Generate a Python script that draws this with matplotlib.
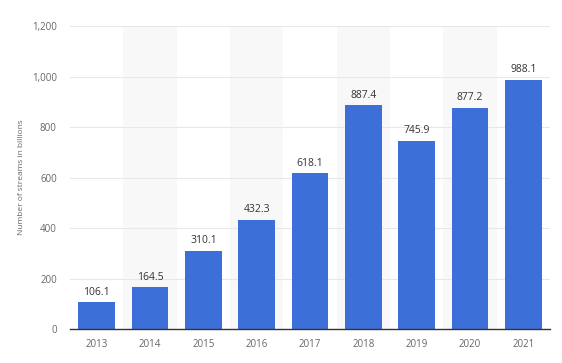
import matplotlib
matplotlib.use("Agg")
import matplotlib.pyplot as plt

years = ["2013", "2014", "2015", "2016", "2017", "2018", "2019", "2020", "2021"]
streams = [106.1, 164.5, 310.1, 432.3, 618.1, 887.4, 745.9, 877.2, 988.1]
yticks = [0, 200, 400, 600, 800, 1000, 1200]

plt.rcParams['font.family'] = ['Open Sans', 'DejaVu Sans']
fig = plt.figure(figsize=(5.62, 3.63), dpi=100)
ax = fig.add_axes([0.1246, 0.0937, 0.854, 0.834])

x = list(range(len(years)))
for i in x:
    if i % 2 == 1:
        ax.axvspan(i - 0.5, i + 0.5, color="#f8f8f8", zorder=0, lw=0)

for t in yticks[1:]:
    ax.axhline(t, color="#e8e8e8", lw=0.8, zorder=1)

bars = ax.bar(x, streams, width=0.69, color="#3d6fd8", zorder=2)
for xi, v in zip(x, streams):
    ax.text(xi, v + 18, f"{v:.1f}", ha="center", va="bottom", fontsize=7.5, color="#333333", zorder=3)

ax.set_xlim(-0.5, len(years) - 0.5)
ax.set_ylim(0, 1200)
ax.set_xticks(x)
ax.set_xticklabels(years)
ax.set_yticks(yticks)
ax.set_yticklabels([f"{t:,}" for t in yticks])
ax.tick_params(axis="both", length=0, labelsize=7, colors="#666666")
ax.tick_params(axis="x", pad=7)
ax.tick_params(axis="y", pad=9.5)
for s in ["top", "right", "left"]:
    ax.spines[s].set_visible(False)
ax.spines["bottom"].set_color("#333333")
ax.spines["bottom"].set_linewidth(1.0)
ax.spines["bottom"].set_zorder(4)
ax.set_ylabel("Number of streams in billions", fontsize=6, color="#666666", labelpad=5)

fig.savefig("out.png", dpi=100)
